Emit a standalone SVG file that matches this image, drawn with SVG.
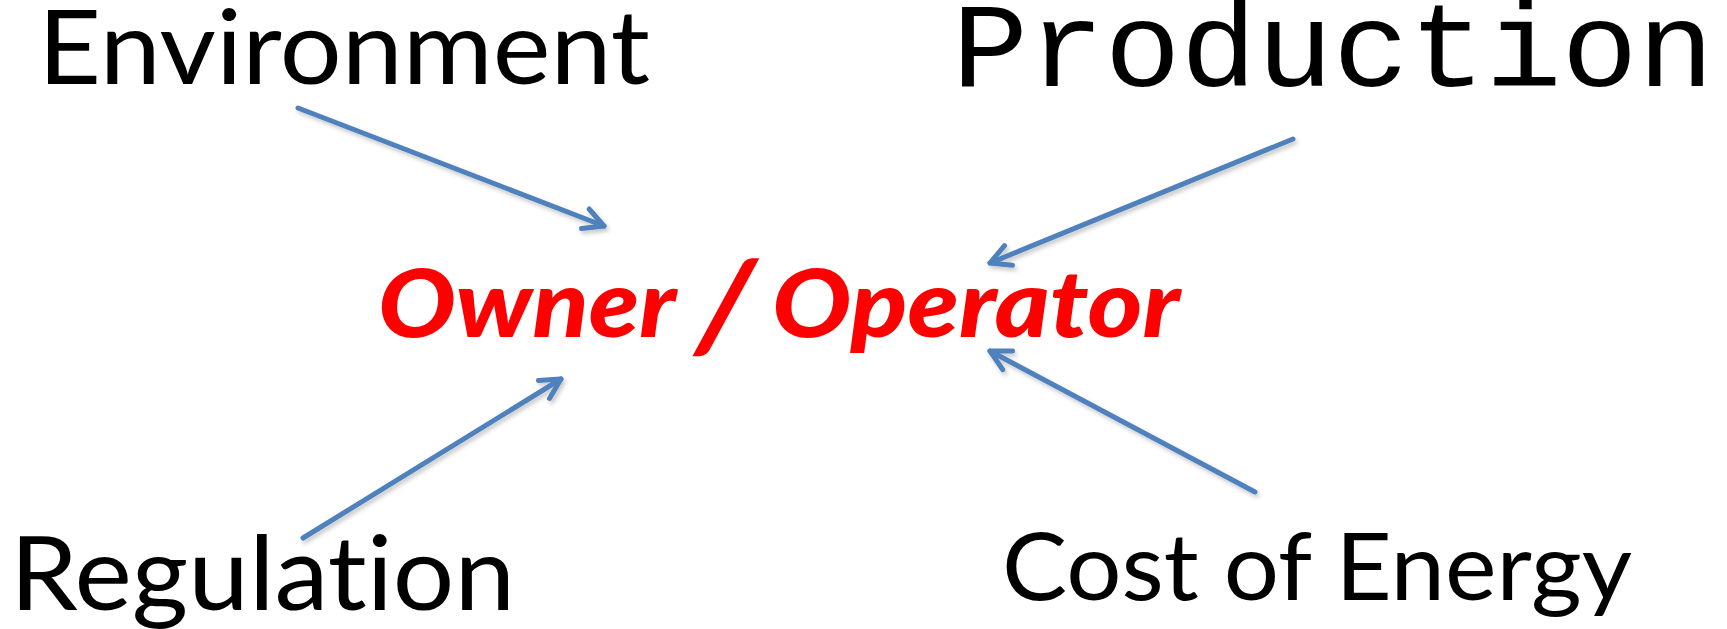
<svg xmlns="http://www.w3.org/2000/svg" width="1727" height="629" viewBox="0 0 1727 629">
  <style>
    .label { font-family: Lato, "Open Sans", sans-serif; fill: #000; font-variant-ligatures: none; }
    .mono { font-family: "Liberation Mono", "Courier New", monospace; fill: #000; }
    .hub { font-family: Lato, "Open Sans", sans-serif; font-weight: 900; font-style: italic; fill: #ff0000; font-variant-ligatures: none; }
    .conn { stroke: #4f81bd; stroke-width: 5; stroke-linecap: round; fill: none; }
  </style>
  <defs>
    <!-- open chevron head, drawn in user units so it keeps the line's weight -->
    <marker id="open-arrow" viewBox="0 0 32 32" refX="27" refY="16" markerWidth="32" markerHeight="32" orient="auto" markerUnits="userSpaceOnUse">
      <path d="M7,5.5 L27,16 L7,26.5" fill="none" stroke="#4f81bd" stroke-width="5" stroke-linecap="round" stroke-linejoin="round"/>
    </marker>
    <filter id="soft-shadow" x="-10%" y="-10%" width="120%" height="130%">
      <feDropShadow dx="2" dy="3" stdDeviation="2" flood-color="#000" flood-opacity="0.22"/>
    </filter>
  </defs>

  <rect width="1727" height="629" fill="#ffffff"/>

  <g id="connectors" filter="url(#soft-shadow)">
    <line class="conn" x1="298" y1="108" x2="604" y2="226" marker-end="url(#open-arrow)"/>
    <line class="conn" x1="1293" y1="139" x2="990" y2="263" marker-end="url(#open-arrow)"/>
    <line class="conn" x1="303" y1="538" x2="561" y2="379" marker-end="url(#open-arrow)"/>
    <line class="conn" x1="1255" y1="492" x2="990" y2="351" marker-end="url(#open-arrow)"/>
  </g>

  <g id="environment">
    <text class="label" x="38" y="84" font-size="102" textLength="612" lengthAdjust="spacingAndGlyphs">Environment</text>
  </g>
  <g id="production">
    <text class="mono" x="952" y="86" font-size="120" textLength="762" lengthAdjust="spacingAndGlyphs">Production</text>
  </g>
  <g id="owner-operator">
    <text class="hub" x="378" y="337" font-size="94" textLength="298" lengthAdjust="spacingAndGlyphs">Owner</text>
    <!-- the slash is set a little larger and leaned further than the words around it -->
    <text class="hub" transform="translate(695,349.5) skewX(-4)" x="0" y="0" font-size="126">/</text>
    <text class="hub" x="772" y="337" font-size="94" textLength="408" lengthAdjust="spacingAndGlyphs">Operator</text>
  </g>
  <g id="regulation">
    <text class="label" x="10" y="610" font-size="102" textLength="505" lengthAdjust="spacingAndGlyphs">Regulation</text>
  </g>
  <g id="cost-of-energy">
    <text class="label" x="1002" y="600" font-size="94" textLength="630" lengthAdjust="spacingAndGlyphs">Cost of Energy</text>
  </g>
</svg>
